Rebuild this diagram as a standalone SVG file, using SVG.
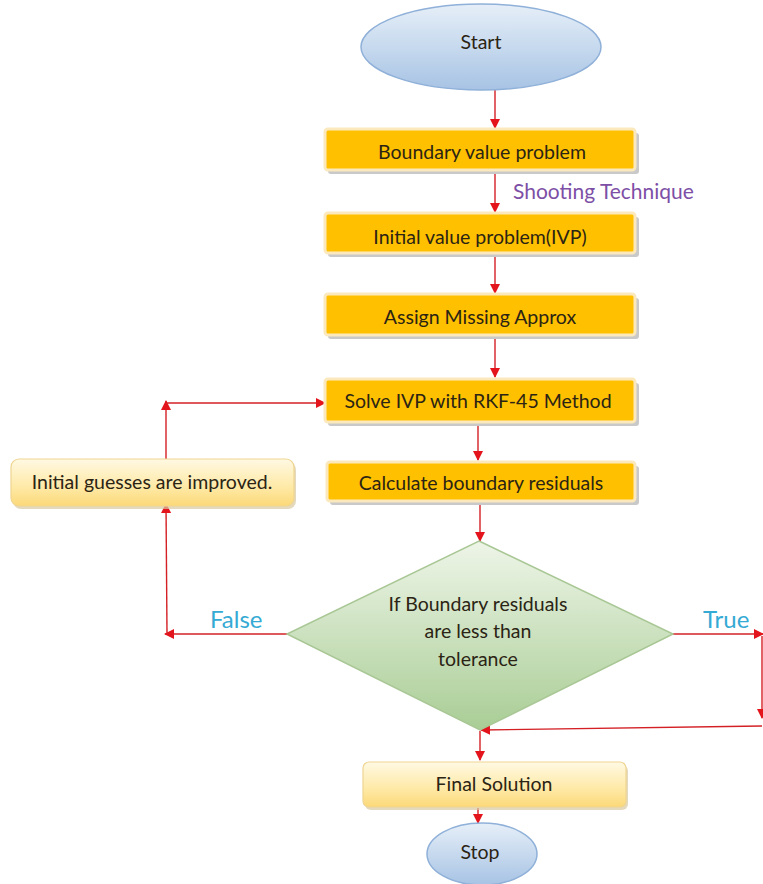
<svg xmlns="http://www.w3.org/2000/svg" width="763" height="884" viewBox="0 0 763 884">
<defs>
<linearGradient id="gBlue" x1="0" y1="0" x2="0" y2="1">
<stop offset="0" stop-color="#e6eff8"/><stop offset="1" stop-color="#a7c3e4"/>
</linearGradient>
<linearGradient id="gGreen" x1="0" y1="0" x2="0" y2="1">
<stop offset="0" stop-color="#eef5e8"/><stop offset="1" stop-color="#a9cd95"/>
</linearGradient>
<linearGradient id="gPale" x1="0" y1="0" x2="0" y2="1">
<stop offset="0" stop-color="#fff9e3"/><stop offset="0.6" stop-color="#fee9a6"/><stop offset="1" stop-color="#fcd978"/>
</linearGradient>
<marker id="ah" viewBox="0 0 10 10" refX="9" refY="5" markerWidth="10" markerHeight="10" markerUnits="userSpaceOnUse" orient="auto">
<path d="M0,0 L10,5 L0,10 z" fill="#e3141b"/>
</marker>
<style>
.t{font-family:Lato,"Open Sans","Liberation Sans",sans-serif;font-size:19.5px;fill:#2b2414;text-anchor:middle}
.ob{fill:#ffc000;stroke:#fbe9bd;stroke-width:3}
.sh{fill:#c9c9c9}
.c{fill:none;stroke:#d42025;stroke-width:1.4}
.lb{font-family:Lato,"Open Sans","Liberation Sans",sans-serif;font-size:24px;fill:#35aad4}
</style>
</defs>

<g id="connectors">
<line class="c" x1="495" y1="90" x2="495" y2="128" marker-end="url(#ah)"/>
<line class="c" x1="495" y1="172" x2="495" y2="212" marker-end="url(#ah)"/>
<line class="c" x1="495" y1="255" x2="495" y2="293" marker-end="url(#ah)"/>
<line class="c" x1="495" y1="337" x2="495" y2="377" marker-end="url(#ah)"/>
<line class="c" x1="478" y1="424" x2="478" y2="460" marker-end="url(#ah)"/>
<line class="c" x1="480" y1="502" x2="480" y2="541" marker-end="url(#ah)"/>
<line class="c" x1="287" y1="634" x2="165" y2="634" marker-end="url(#ah)"/>
<line class="c" x1="167" y1="634" x2="166" y2="504" marker-end="url(#ah)"/>
<line class="c" x1="166" y1="460" x2="166" y2="401" marker-end="url(#ah)"/>
<line class="c" x1="166" y1="403" x2="325" y2="403" marker-end="url(#ah)"/>
<line class="c" x1="673" y1="634" x2="763" y2="634" marker-end="url(#ah)"/>
<line class="c" x1="762" y1="636" x2="762" y2="718" marker-end="url(#ah)"/>
<line class="c" x1="762" y1="726" x2="481" y2="730" marker-end="url(#ah)"/>
<line class="c" x1="480" y1="731" x2="480" y2="760" marker-end="url(#ah)"/>
<line class="c" x1="478" y1="808" x2="478" y2="823" marker-end="url(#ah)"/>
<text x="513" y="199" font-family="Lato,'Open Sans','Liberation Sans',sans-serif" font-size="21" fill="#7d4fa6">Shooting Technique</text>
<text class="lb" x="210" y="628">False</text>
<text class="lb" x="703" y="628">True</text>
</g>

<g id="start">
<ellipse cx="481" cy="47" rx="120" ry="43" fill="url(#gBlue)" stroke="#8fb0d8" stroke-width="1.5"/>
<text class="t" x="481" y="42" dy="0.35em">Start</text>
</g>

<g id="bvp">
<rect class="sh" x="328" y="133" width="311" height="41" rx="3"/>
<rect class="ob" x="325" y="129" width="310" height="41" rx="3"/>
<text class="t" x="482" y="152" dy="0.35em">Boundary value problem</text>
</g>

<g id="ivp">
<rect class="sh" x="328" y="217" width="311" height="40" rx="3"/>
<rect class="ob" x="325" y="213" width="310" height="40" rx="3"/>
<text class="t" x="480" y="237" dy="0.35em">Initial value problem(IVP)</text>
</g>

<g id="assign">
<rect class="sh" x="328" y="298" width="311" height="41" rx="3"/>
<rect class="ob" x="325" y="294" width="310" height="41" rx="3"/>
<text class="t" x="480" y="317" dy="0.35em">Assign Missing Approx</text>
</g>

<g id="solve">
<rect class="sh" x="328" y="383" width="311" height="43" rx="3"/>
<rect class="ob" x="325" y="379" width="310" height="43" rx="3"/>
<text class="t" x="478" y="401" dy="0.35em">Solve IVP with RKF-45 Method</text>
</g>

<g id="calc">
<rect class="sh" x="330" y="466" width="309" height="39" rx="3"/>
<rect class="ob" x="327" y="462" width="308" height="39" rx="3"/>
<text class="t" x="481" y="483" dy="0.35em">Calculate boundary residuals</text>
</g>

<g id="improve">
<rect x="13" y="462" width="283" height="47" rx="8" fill="#d8c9a0" opacity="0.7"/>
<rect x="11" y="459" width="283" height="47" rx="8" fill="url(#gPale)" stroke="#efd592" stroke-width="1.2"/>
<text class="t" x="152" y="482" dy="0.35em">Initial guesses are improved.</text>
</g>

<g id="decision">
<polygon points="479,541 673,634 480,730 287,634" fill="url(#gGreen)" stroke="#a9c795" stroke-width="1.5"/>
<text class="t" x="478" y="611">If Boundary residuals</text>
<text class="t" x="478" y="638">are less than</text>
<text class="t" x="478" y="666">tolerance</text>
</g>

<g id="final">
<rect x="365" y="765" width="263" height="45" rx="6" fill="#d8c9a0" opacity="0.7"/>
<rect x="363" y="762" width="263" height="45" rx="6" fill="url(#gPale)" stroke="#efd592" stroke-width="1.2"/>
<text class="t" x="494" y="784" dy="0.35em">Final Solution</text>
</g>

<g id="stop">
<ellipse cx="482" cy="854" rx="55" ry="31" fill="url(#gBlue)" stroke="#8fb0d8" stroke-width="1.5"/>
<text class="t" x="480" y="852" dy="0.35em">Stop</text>
</g>
</svg>
